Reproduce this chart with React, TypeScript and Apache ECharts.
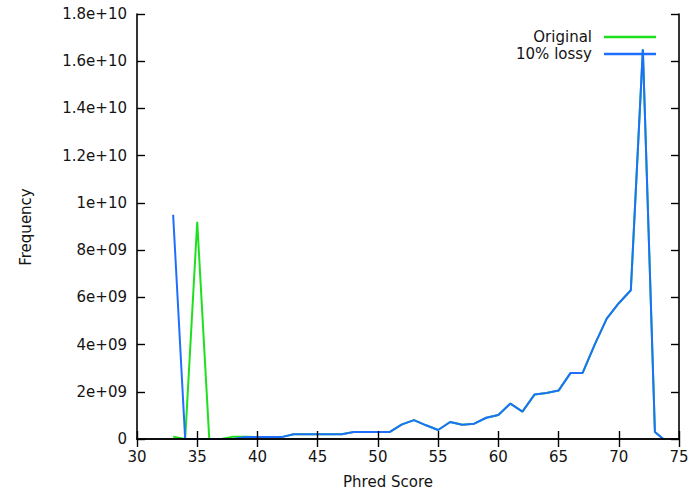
import React, { useEffect, useRef } from "react";
import * as echarts from "echarts";

const phredScores = [33, 34, 35, 36, 37, 38, 39, 40, 41, 42, 43, 44, 45, 46, 47, 48, 49, 50, 51, 52, 53, 54, 55, 56, 57, 58, 59, 60, 61, 62, 63, 64, 65, 66, 67, 68, 69, 70, 71, 72, 73, 73.7];
const originalFreq = [0.1e9, 0, 9.2e9, 0, 0, 0.1e9, 0.1e9, 0.08e9, 0.08e9, 0.08e9, 0.2e9, 0.2e9, 0.2e9, 0.2e9, 0.2e9, 0.3e9, 0.3e9, 0.3e9, 0.3e9, 0.62e9, 0.8e9, 0.58e9, 0.38e9, 0.72e9, 0.6e9, 0.65e9, 0.9e9, 1.02e9, 1.5e9, 1.16e9, 1.88e9, 1.95e9, 2.05e9, 2.8e9, 2.8e9, 4.0e9, 5.1e9, 5.75e9, 6.3e9, 16.5e9, 0.3e9, 0];
const lossyFreq = [9.5e9, 0, 0, 0, 0, 0, 0.08e9, 0.08e9, 0.08e9, 0.08e9, 0.2e9, 0.2e9, 0.2e9, 0.2e9, 0.2e9, 0.3e9, 0.3e9, 0.3e9, 0.3e9, 0.62e9, 0.8e9, 0.58e9, 0.38e9, 0.72e9, 0.6e9, 0.65e9, 0.9e9, 1.02e9, 1.5e9, 1.16e9, 1.88e9, 1.95e9, 2.05e9, 2.8e9, 2.8e9, 4.0e9, 5.1e9, 5.75e9, 6.3e9, 16.5e9, 0.3e9, 0];
const seriesNames = ["Original", "10% lossy"];
const yTickLabels = ["0", "2e+09", "4e+09", "6e+09", "8e+09", "1e+10", "1.2e+10", "1.4e+10", "1.6e+10", "1.8e+10"];
const xTitle = "Phred Score";
const yTitle = "Frequency";

const FONT = "DejaVu Sans";
const TXT = "#141414";

export default function App() {
  const ref = useRef<HTMLDivElement>(null);
  useEffect(() => {
    if (!ref.current) return;
    const chart = echarts.init(ref.current, undefined, { renderer: "svg" });
    const axisLine = { show: true, lineStyle: { color: "#000", width: 1.6 } };
    const tick = { show: true, inside: true, length: 8, lineStyle: { color: "#000", width: 1.4 } };
    chart.setOption({
      animation: false,
      backgroundColor: "#fff",
      grid: { left: 137, right: 14, top: 14, bottom: 52, containLabel: false },
      legend: {
        data: seriesNames,
        orient: "vertical",
        align: "right",
        right: 32,
        top: 24,
        itemWidth: 52,
        itemHeight: 2.5,
        itemGap: 1,
        icon: "rect",
        textStyle: { fontFamily: FONT, fontSize: 15, color: TXT, padding: [0, 7, 0, 0], lineHeight: 16 },
      },
      xAxis: [
        {
          type: "value",
          min: 30,
          max: 75,
          interval: 5,
          position: "bottom",
          z: 5,
          axisLine,
          axisTick: tick,
          splitLine: { show: false },
          axisLabel: { fontFamily: FONT, fontSize: 15, color: TXT, margin: 10 },
        },
        {
          type: "value",
          min: 30,
          max: 75,
          interval: 5,
          position: "top",
          z: 5,
          axisLine,
          axisTick: tick,
          splitLine: { show: false },
          axisLabel: { show: false },
        },
      ],
      yAxis: [
        {
          type: "value",
          min: 0,
          max: 1.8e10,
          interval: 2e9,
          position: "left",
          z: 5,
          axisLine,
          axisTick: tick,
          splitLine: { show: false },
          axisLabel: {
            fontFamily: FONT,
            fontSize: 15,
            color: TXT,
            margin: 10,
            formatter: (v: number) => yTickLabels[Math.round(v / 2e9)],
          },
        },
        {
          type: "value",
          min: 0,
          max: 1.8e10,
          interval: 2e9,
          position: "right",
          z: 5,
          axisLine,
          axisTick: tick,
          splitLine: { show: false },
          axisLabel: { show: false },
        },
      ],
      graphic: [
        {
          type: "text",
          x: 388,
          y: 482,
          style: { text: xTitle, fontFamily: FONT, fontSize: 15, fill: TXT, align: "center", verticalAlign: "middle" },
        },
        {
          type: "text",
          x: 26,
          y: 227,
          rotation: Math.PI / 2,
          style: { text: yTitle, fontFamily: FONT, fontSize: 15, fill: TXT, align: "center", verticalAlign: "middle" },
        },
      ],
      series: [
        {
          name: seriesNames[0],
          type: "line",
          xAxisIndex: 0,
          yAxisIndex: 0,
          data: phredScores.map((x, i) => [x, originalFreq[i]]),
          showSymbol: false,
          color: "#1ee01e",
          lineStyle: { width: 2, color: "#1ee01e" },
          z: 2,
        },
        {
          name: seriesNames[1],
          type: "line",
          xAxisIndex: 0,
          yAxisIndex: 0,
          data: phredScores.map((x, i) => [x, lossyFreq[i]]),
          showSymbol: false,
          color: "#1f6fff",
          lineStyle: { width: 2, color: "#1f6fff" },
          z: 3,
        },
      ],
    });
    return () => chart.dispose();
  }, []);
  return <div ref={ref} style={{ position: "fixed", left: 0, top: 0, width: 693, height: 491 }} />;
}
